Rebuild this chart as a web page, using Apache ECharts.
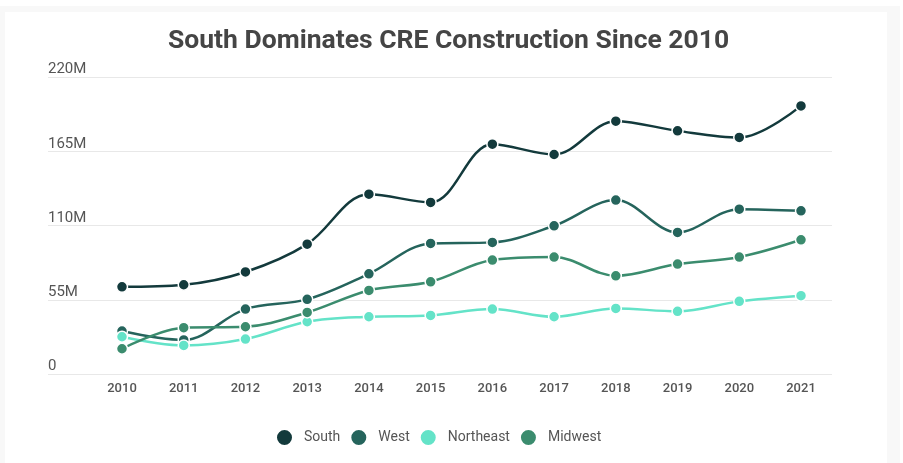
<!DOCTYPE html>
<html>
<head>
<meta charset="utf-8">
<script src="https://cdn.jsdelivr.net/npm/echarts@6/dist/echarts.min.js"></script>
<style>
html,body{margin:0;padding:0;background:#fff;}
#chart{width:903px;height:463px;}
</style>
</head>
<body>
<div id="chart"></div>
<script>
const years = ['2010','2011','2012','2013','2014','2015','2016','2017','2018','2019','2020','2021'];
const south = [64.6, 66.1, 75.6, 96.2, 133.2, 127.1, 170.2, 162.6, 187.3, 180.1, 175.2, 198.6];
const west = [31.8, 25.2, 48.1, 55.3, 74.2, 96.7, 97.5, 109.8, 128.8, 104.9, 122.1, 120.9];
const northeast = [27.6, 21.2, 25.9, 38.7, 42.4, 43.4, 48.1, 42.4, 48.6, 46.4, 53.8, 58.0];
const midwest = [18.7, 34.3, 35.0, 45.6, 61.9, 68.3, 84.4, 86.6, 72.7, 81.4, 86.6, 99.4];
const seriesNames = ['South','West','Northeast','Midwest'];
const colors = ['#133a3c','#25645c','#64e3c8','#3b8c6e'];
const yMin = 0, yMax = 220, yStep = 55;

const chart = echarts.init(document.getElementById('chart'));
const dataSets = [south, west, northeast, midwest];
const font = 'Roboto, "Noto Sans", sans-serif';
chart.setOption({
  backgroundColor: '#ffffff',
  animation: false,
  graphic: [
    {type:'rect', z:-10, shape:{x:0,y:6,width:900,height:457}, style:{fill:'#f8f8f8'}, silent:true},
    {type:'rect', z:-9, shape:{x:5,y:12,width:882,height:451}, style:{fill:'#ffffff'}, silent:true}
  ],
  title: {
    text: 'South Dominates CRE Construction Since 2010',
    left: 163,
    top: 23,
    textStyle: {fontFamily: font, fontWeight: 'bold', fontSize: 26.5, color: '#454545'}
  },
  legend: {
    top: 423,
    left: 270,
    icon: 'circle',
    itemWidth: 17,
    itemHeight: 17,
    itemGap: 9,
    textStyle: {fontFamily: font, fontSize: 14, color: '#555', padding: [0,0,0,6]},
    data: seriesNames
  },
  grid: [
    {left: 122, right: 102, top: 77, bottom: 89},
    {left: 48, right: 71, top: 77, bottom: 89}
  ],
  xAxis: [
    {type: 'category', gridIndex: 0, data: years, boundaryGap: false,
     axisLine: {show: false}, axisTick: {show: false},
     axisLabel: {fontFamily: font, fontSize: 13, fontWeight: 500, color: '#555', margin: 8}},
    {type: 'value', gridIndex: 1, show: false, min: 0, max: 1}
  ],
  yAxis: [
    {type: 'value', gridIndex: 0, min: yMin, max: yMax, interval: yStep, show: false},
    {type: 'value', gridIndex: 1, min: yMin, max: yMax, interval: yStep,
     axisLine: {show: false}, axisTick: {show: false},
     splitLine: {lineStyle: {color: '#e8e8e8', width: 1}},
     axisLabel: {inside: true, margin: 0, verticalAlign: 'bottom', padding: [0,0,0,0],
       fontFamily: font, fontSize: 15, color: '#555',
       formatter: v => v === 0 ? '0' : v + 'M'}}
  ],
  series: dataSets.map((d, i) => ({
    name: seriesNames[i],
    type: 'line',
    xAxisIndex: 0, yAxisIndex: 0,
    data: d,
    smooth: 0.35,
    symbol: 'circle',
    symbolSize: 11,
    showAllSymbol: true,
    color: colors[i],
    lineStyle: {width: 2.5, color: colors[i]},
    itemStyle: {color: colors[i], borderColor: '#fff', borderWidth: 1.5}
  }))
});
</script>
</body>
</html>
